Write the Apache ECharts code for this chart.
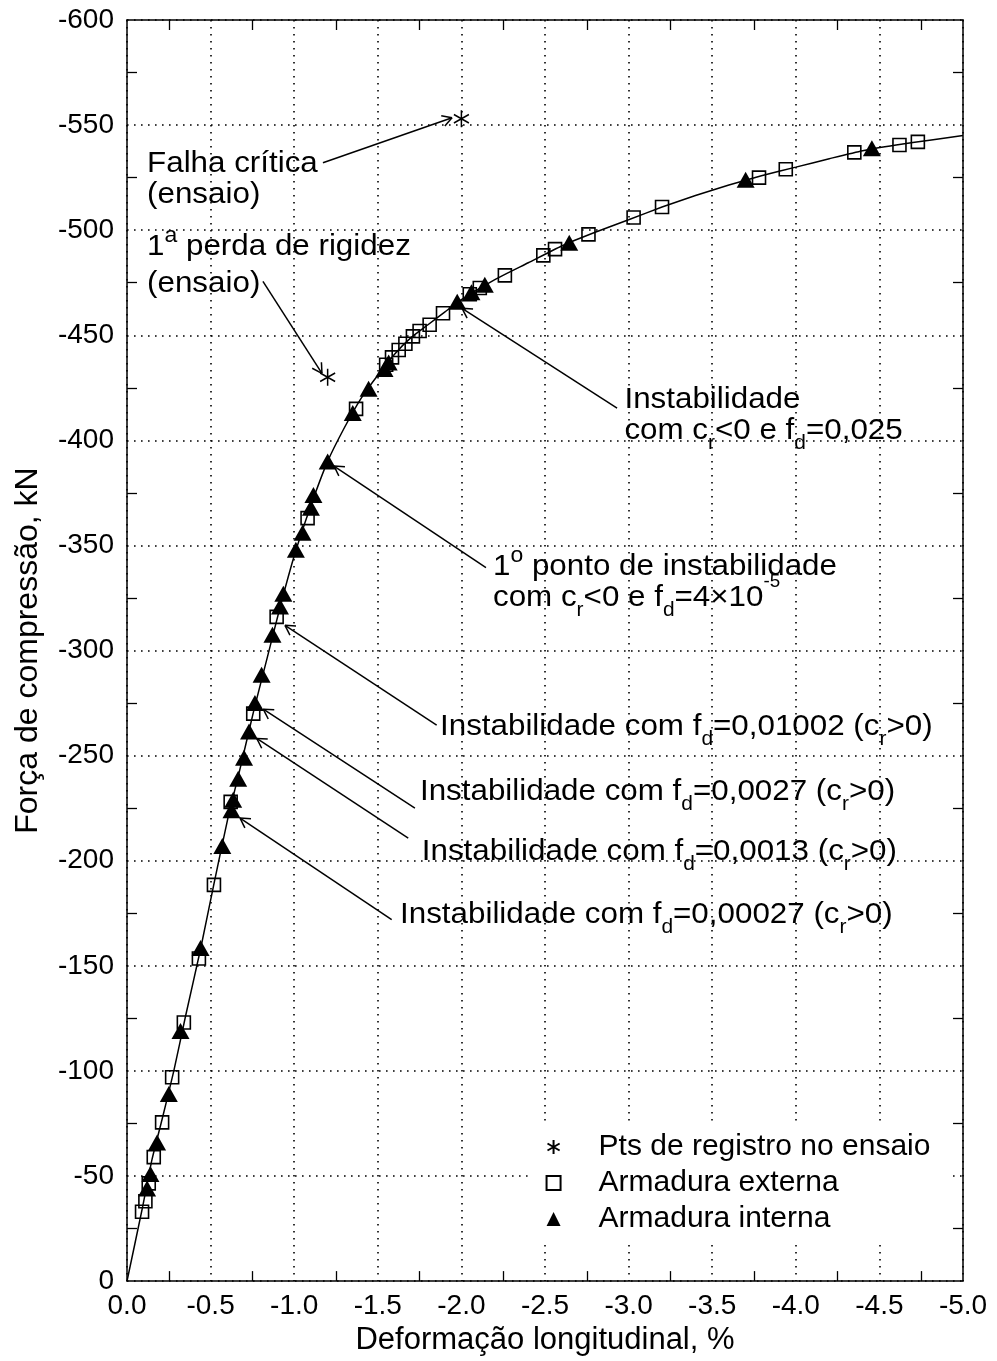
<!DOCTYPE html>
<html>
<head>
<meta charset="utf-8">
<script src="https://cdn.jsdelivr.net/npm/echarts@6/dist/echarts.min.js"></script>
<style>
  html, body { margin: 0; padding: 0; background: #fff; }
  #chart { width: 997px; height: 1361px; }
</style>
</head>
<body>
<div id="chart"></div>
<script>
const FONT = "'Liberation Sans', Arial, Helvetica, sans-serif";

// Tick labels
const xTickLabels = ['0.0', '-0.5', '-1.0', '-1.5', '-2.0', '-2.5', '-3.0', '-3.5', '-4.0', '-4.5', '-5.0'];
const yTickLabels = ['0', '-50', '-100', '-150', '-200', '-250', '-300', '-350', '-400', '-450', '-500', '-550', '-600'];

// Numerical load-deformation curve
const curveX = [0, -0.09, -0.15, -0.21, -0.28, -0.35, -0.44, -0.52, -0.60, -0.68, -0.76, -0.84, -0.92, -1.00,
  -1.10, -1.20, -1.30, -1.40, -1.50, -1.60, -1.70, -1.80, -1.90, -2.00, -2.20, -2.40, -2.60, -2.80,
  -3.00, -3.20, -3.40, -3.60, -3.80, -4.00, -4.20, -4.40, -4.60, -4.80, -5.00];
const curveY = [0, -34, -58, -77, -100, -126, -158, -189, -219, -245, -272, -297, -322, -345,
  -369, -390, -406, -420, -431, -441, -449, -455, -461, -467, -476.5, -484.5, -492.5, -499,
  -505, -511, -516.5, -521.5, -526, -530, -534, -537.8, -540.5, -542.8, -545];

// Armadura externa (squares)
const externaX = [-0.09, -0.11, -0.13, -0.16, -0.21, -0.27, -0.34, -0.43, -0.52, -0.62, -0.755, -0.895,
  -1.08, -1.37, -1.55, -1.585, -1.625, -1.665, -1.71, -1.75, -1.81, -1.89, -2.05, -2.11, -2.26,
  -2.49, -2.56, -2.76, -3.03, -3.20, -3.78, -3.94, -4.35, -4.62, -4.73];
const externaY = [-33, -38, -46.5, -59, -75.5, -97, -123, -153.5, -188.5, -228, -270, -316,
  -363, -415, -436, -439.5, -443, -446, -449.5, -452, -455, -460.5, -469.5, -472.5, -478.5,
  -488, -491, -498, -506, -511, -525, -529, -537, -540.5, -542];

// Armadura interna (triangles)
const internaX = [-0.12, -0.14, -0.18, -0.25, -0.32, -0.44, -0.57, -0.625, -0.635, -0.665, -0.70, -0.73,
  -0.765, -0.805, -0.87, -0.915, -0.935, -1.01, -1.05, -1.10, -1.115, -1.20, -1.35, -1.445,
  -1.54, -1.565, -1.975, -2.06, -2.14, -2.645, -3.70, -4.455];
const internaY = [-44, -51, -66, -89, -119, -158.5, -207, -224, -229, -239, -249, -261.5,
  -275, -288.5, -307.5, -321, -327, -348, -356, -368, -374, -390, -413, -424.5,
  -434, -437, -466, -470.5, -474, -494, -524, -539];

// Pontos de registro no ensaio (asterisks)
const ensaioX = [-1.2, -2.0];
const ensaioY = [-430, -553];

// Annotations: text lines anchored at (left, baseline) in data units, arrows from -> to
const notes = [
  { lines: [
      { at: [-0.12, -527.8], segs: [['Falha crítica']] },
      { at: [-0.12, -513.1], segs: [['(ensaio)']] } ],
    arrow: { from: [-1.172, -532.1], to: [-1.944, -553.5] } },
  { lines: [
      { at: [-0.12, -488.4], segs: [['1'], ['a', 'sup'], [' perda de rigidez']] },
      { at: [-0.12, -470.4], segs: [['(ensaio)']] } ],
    arrow: { from: [-0.813, -475.6], to: [-1.166, -431.9] } },
  { lines: [
      { at: [-2.975, -415.3], segs: [['Instabilidade']] },
      { at: [-2.975, -400.6], segs: [['com c'], ['r', 'sub'], ['<0 e f'], ['d', 'sub'], ['=0,025']] } ],
    arrow: { from: [-2.931, -415.3], to: [-2.004, -462.8] } },
  { lines: [
      { at: [-2.189, -336.1], segs: [['1'], ['o', 'sup'], [' ponto de instabilidade']] },
      { at: [-2.189, -321.4], segs: [['com c'], ['r', 'sub'], ['<0 e f'], ['d', 'sub'], ['=4×10'], ['-5', 'sup2']] } ],
    arrow: { from: [-2.147, -339.4], to: [-1.238, -387.8] } },
  { lines: [
      { at: [-1.872, -259.6], segs: [['Instabilidade com f'], ['d', 'sub'], ['=0,01002 (c'], ['r', 'sub'], ['>0)']] } ],
    arrow: { from: [-1.852, -264.5], to: [-0.945, -312.0] } },
  { lines: [
      { at: [-1.752, -228.8], segs: [['Instabilidade com f'], ['d', 'sub'], ['=0,0027 (c'], ['r', 'sub'], ['>0)']] } ],
    arrow: { from: [-1.722, -225.0], to: [-0.815, -272.1] } },
  { lines: [
      { at: [-1.763, -200.3], segs: [['Instabilidade com f'], ['d', 'sub'], ['=0,0013 (c'], ['r', 'sub'], ['>0)']] } ],
    arrow: { from: [-1.682, -210.8], to: [-0.776, -258.2] } },
  { lines: [
      { at: [-1.633, -170.4], segs: [['Instabilidade com f'], ['d', 'sub'], ['=0,00027 (c'], ['r', 'sub'], ['>0)']] } ],
    arrow: { from: [-1.583, -172.0], to: [-0.676, -220.3] } }
];

const pairs = (xs, ys) => xs.map((x, i) => [x, ys[i]]);

const axisLine = { show: true, onZero: false, lineStyle: { color: '#000', width: 1.5 } };
const minorTick = { show: true, splitNumber: 2, length: 10, lineStyle: { color: '#000', width: 1.3 } };
const gridDots = { show: true, lineStyle: { color: '#000', width: 1.6, type: [1.6, 5.4] } };
const labelBase = { fontFamily: FONT, fontSize: 28, color: '#000', showMinLabel: true, showMaxLabel: true };

const asteriskPath = 'path://M0,-10L0,10M-8.66,-5L8.66,5M-8.66,5L8.66,-5';

const chart = echarts.init(document.getElementById('chart'), null, { renderer: 'canvas' });

chart.setOption({
  animation: false,
  backgroundColor: '#fff',
  grid: { left: 127, top: 20, right: 34, bottom: 77 },
  xAxis: [
    {
      type: 'value', position: 'bottom', min: -5, max: 0, interval: 0.5, inverse: true,
      name: 'Deformação longitudinal, %', nameLocation: 'middle', nameGap: 40,
      nameTextStyle: { fontFamily: FONT, fontSize: 31, color: '#000' },
      axisLine: axisLine, axisTick: { show: false, inside: true }, minorTick: minorTick,
      axisLabel: Object.assign({}, labelBase, { margin: 11, formatter: v => xTickLabels[Math.round(-v / 0.5)] }),
      splitLine: gridDots, minorSplitLine: { show: false }
    },
    {
      type: 'value', position: 'top', min: -5, max: 0, interval: 0.5, inverse: true,
      axisLine: axisLine, axisTick: { show: false, inside: true }, minorTick: minorTick,
      axisLabel: { show: false }, splitLine: { show: false }
    }
  ],
  yAxis: [
    {
      type: 'value', position: 'left', min: -600, max: 0, interval: 50, inverse: true,
      name: 'Força de compressão, kN', nameLocation: 'middle', nameGap: 83,
      nameTextStyle: { fontFamily: FONT, fontSize: 32, color: '#000' },
      axisLine: axisLine, axisTick: { show: false, inside: true }, minorTick: minorTick,
      axisLabel: Object.assign({}, labelBase, { margin: 13, formatter: v => yTickLabels[Math.round(-v / 50)] }),
      splitLine: gridDots, minorSplitLine: { show: false }
    },
    {
      type: 'value', position: 'right', min: -600, max: 0, interval: 50, inverse: true,
      axisLine: axisLine, axisTick: { show: false, inside: true }, minorTick: minorTick,
      axisLabel: { show: false }, splitLine: { show: false }
    }
  ],
  legend: {
    data: ['Pts de registro no ensaio', 'Armadura externa', 'Armadura interna'],
    orient: 'vertical', left: 528, top: 1126,
    itemWidth: 14, itemHeight: 14, itemGap: 6,
    padding: [6, 18, 6, 17],
    backgroundColor: '#fff',
    selectedMode: false,
    textStyle: { fontFamily: FONT, fontSize: 30, color: '#000', padding: [0, 0, 0, 33] }
  },
  series: [
    {
      name: 'Curva', type: 'line', data: pairs(curveX, curveY),
      showSymbol: false, smooth: 0.2, z: 2, silent: true,
      lineStyle: { color: '#000', width: 1.5 }
    },
    {
      name: 'Armadura externa', type: 'scatter', data: pairs(externaX, externaY),
      symbol: 'rect', symbolSize: 13, z: 3,
      itemStyle: { color: 'rgba(0,0,0,0)', borderColor: '#000', borderWidth: 1.6, opacity: 1 }
    },
    {
      name: 'Armadura interna', type: 'scatter', data: pairs(internaX, internaY),
      symbol: 'triangle', symbolSize: [18, 16], z: 4,
      itemStyle: { color: '#000', opacity: 1 }
    },
    {
      name: 'Pts de registro no ensaio', type: 'scatter', data: pairs(ensaioX, ensaioY),
      symbol: asteriskPath, symbolSize: [15, 17], z: 5,
      itemStyle: { color: 'none', borderColor: '#000', borderWidth: 1.6, opacity: 1 }
    }
  ]
});

// Annotation text and arrows, positioned through the chart's own coordinate system
const SEG = {
  main: { size: 30, dy: 0 },
  sub:  { size: 20, dy: 10 },
  sup:  { size: 22, dy: -13 },
  sup2: { size: 18, dy: -19 }
};
const STRETCH = 1.045;
const ctx = document.createElement('canvas').getContext('2d');
function textWidth(txt, size) { ctx.font = size + 'px ' + FONT; return ctx.measureText(txt).width; }
function middleToBaseline(size) {
  ctx.font = size + 'px ' + FONT; ctx.textBaseline = 'middle';
  return ctx.measureText('H').actualBoundingBoxDescent;
}
const toPx = p => chart.convertToPixel({ xAxisIndex: 0, yAxisIndex: 0 }, p);

const els = [];
notes.forEach(n => {
  n.lines.forEach(line => {
    const p = toPx(line.at);
    let x = p[0];
    line.segs.forEach(seg => {
      const st = SEG[seg[1] || 'main'];
      els.push({
        type: 'text', x: x, y: p[1] + st.dy - middleToBaseline(st.size), scaleX: STRETCH, z: 100, silent: true,
        style: { text: seg[0], fontSize: st.size, fontFamily: FONT, fill: '#000', align: 'left', verticalAlign: 'middle' }
      });
      x += textWidth(seg[0], st.size) * STRETCH;
    });
  });
  const a = toPx(n.arrow.from), b = toPx(n.arrow.to);
  const ang = Math.atan2(a[1] - b[1], a[0] - b[0]);
  const head = 11, spread = Math.PI / 6;
  const lineStyle = { stroke: '#000', lineWidth: 1.5 };
  els.push({ type: 'line', z: 100, silent: true, shape: { x1: a[0], y1: a[1], x2: b[0], y2: b[1] }, style: lineStyle });
  [-spread, spread].forEach(s => {
    els.push({ type: 'line', z: 100, silent: true,
      shape: { x1: b[0], y1: b[1], x2: b[0] + head * Math.cos(ang + s), y2: b[1] + head * Math.sin(ang + s) },
      style: lineStyle });
  });
});
chart.setOption({ graphic: els });
</script>
</body>
</html>
